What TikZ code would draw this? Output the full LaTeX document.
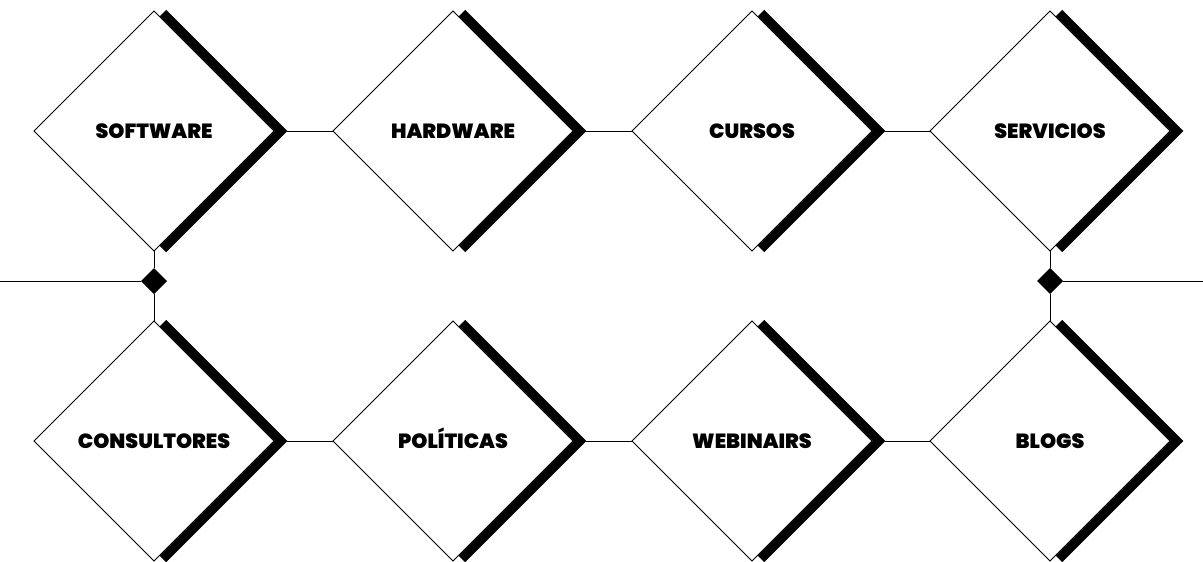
\documentclass[tikz,border=0pt]{standalone}
\usepackage{fontspec}
\setmainfont{Poppins}
\newfontfamily\cardfont{Poppins}[UprightFont=*-Black]
\usetikzlibrary{shapes.geometric}
\tikzset{
  card/.style={shape=diamond, draw=black, line width=0.9pt, fill=white, inner sep=0pt, outer sep=0pt, minimum width=240pt, minimum height=240pt, text height=14pt, text depth=0pt, font=\cardfont\fontsize{20.5}{22}\selectfont},
  band/.style={line width=9pt, line join=miter, line cap=butt},
  link/.style={line width=0.9pt},
  joint/.style={shape=diamond, fill=black, inner sep=0pt, outer sep=0pt, minimum width=26pt, minimum height=26pt}
}
\begin{document}
\begin{tikzpicture}[x=1pt, y=-1pt]
\useasboundingbox (0,0) rectangle (1203,562);
% top row
\node[card] (sw) at (154,131) {SOFTWARE};
\node[card] (hw) at (453,131) {HARDWARE};
\node[card] (cu) at (752,131) {CURSOS};
\node[card] (se) at (1050,131) {SERVICIOS};
% bottom row
\node[card] (co) at (154,441) {CONSULTORES};
\node[card] (po) at (453,441) {POLÍTICAS};
\node[card] (we) at (752,441) {WEBINAIRS};
\node[card] (bl) at (1050,441) {BLOGS};
% heavy right edges
\foreach \n in {sw,hw,cu,se,co,po,we,bl}{
  \draw[band] ([shift={(9,2)}]\n.north) -- ([xshift=7]\n.east) -- ([shift={(9,-2)}]\n.south);
  \coordinate (\n tip) at ([xshift=13]\n.east);
}
% links along the rows
\foreach \a/\b in {sw/hw,hw/cu,cu/se,co/po,po/we,we/bl}{
  \draw[link] (\a tip) -- (\b.west);
}
% joints between the rows
\node[joint] (jl) at (154,281) {};
\node[joint] (jr) at (1050,281) {};
\coordinate (ledge) at (0,281);
\coordinate (redge) at (1203,281);
\draw[link] (sw.south) -- (jl.north);
\draw[link] (jl.south) -- (co.north);
\draw[link] (ledge) -- (jl.west);
\draw[link] (se.south) -- (jr.north);
\draw[link] (jr.south) -- (bl.north);
\draw[link] (jr.east) -- (redge);
\end{tikzpicture}
\end{document}
